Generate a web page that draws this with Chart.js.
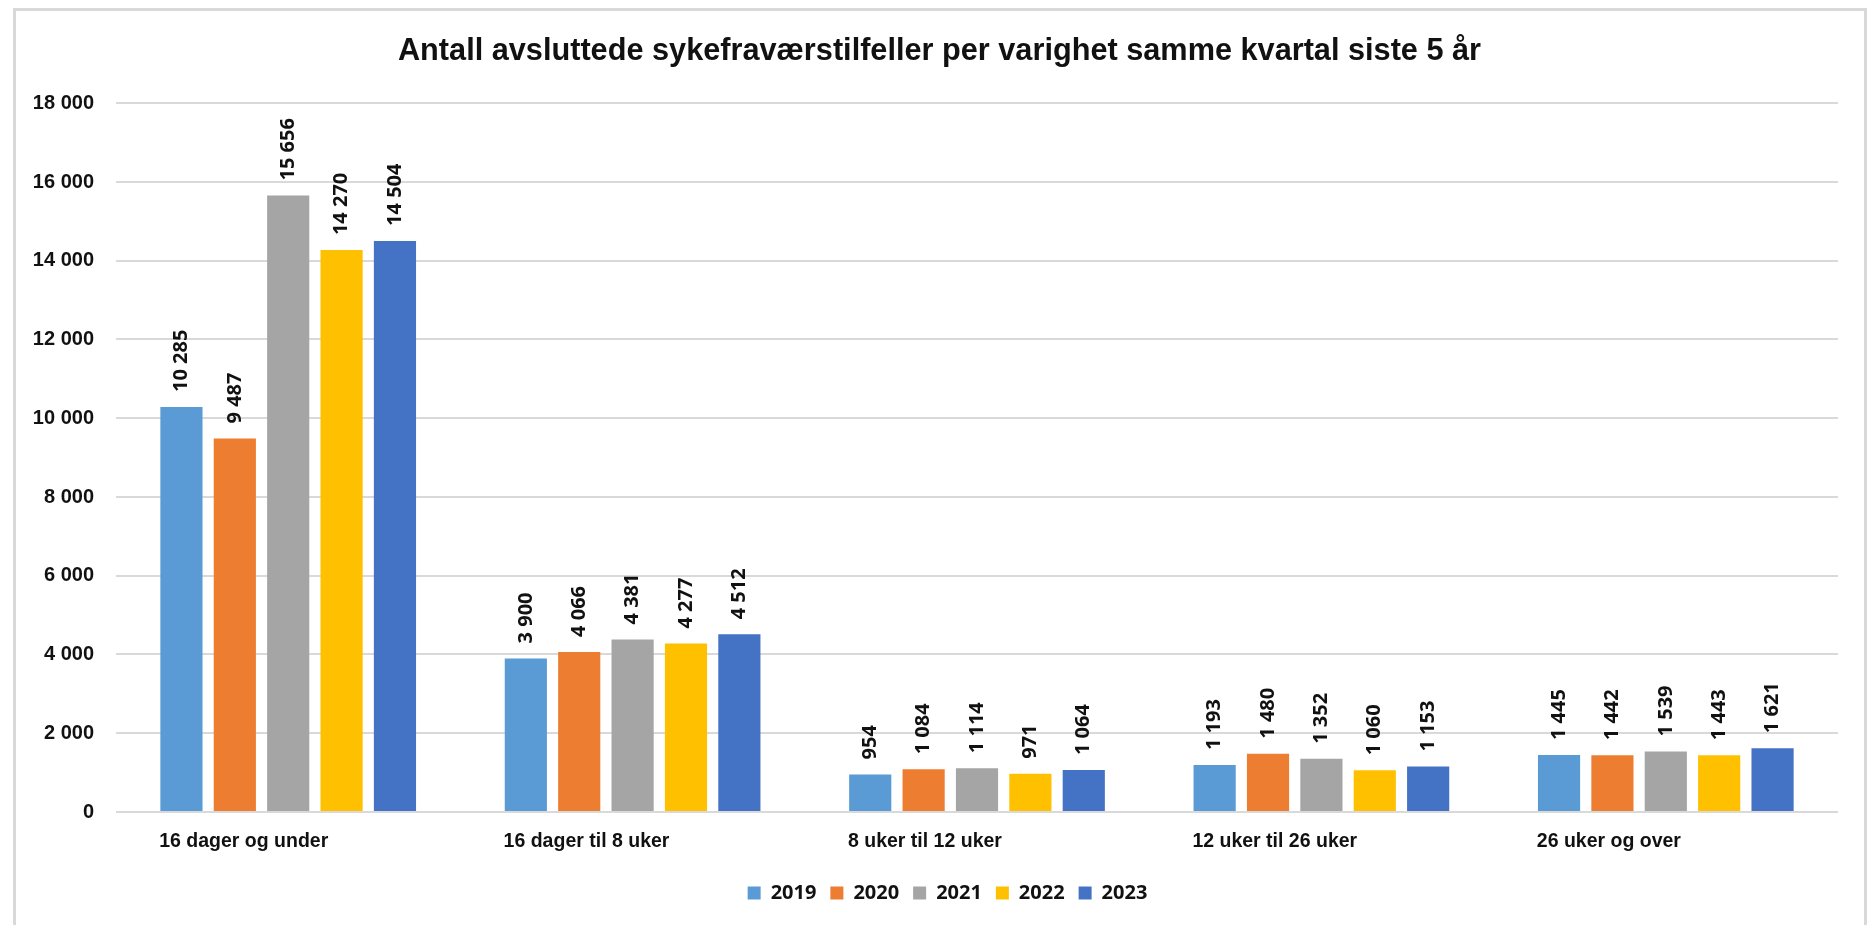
<!DOCTYPE html>
<html><head><meta charset="utf-8">
<script src="https://cdn.jsdelivr.net/npm/chart.js@4.4.1/dist/chart.umd.min.js"></script>
<style>
html,body{margin:0;padding:0;background:#fff;overflow:hidden;}
#wrap{position:relative;width:1873px;height:925px;}
#frame{position:absolute;left:13px;top:8px;width:1854px;height:1000px;border:3px solid #d9d9d9;box-sizing:border-box;pointer-events:none;}
canvas{position:absolute;left:0;top:0;}
</style></head><body>
<div id="wrap"><canvas id="c" width="1873" height="925"></canvas><div id="frame"></div></div>
<script>
const chartTitle = 'Antall avsluttede sykefraværstilfeller per varighet samme kvartal siste 5 år';
const categories = ['16 dager og under', '16 dager til 8 uker', '8 uker til 12 uker', '12 uker til 26 uker', '26 uker og over'];
const years = ['2019', '2020', '2021', '2022', '2023'];
const values2019 = [10285, 3900, 954, 1193, 1445];
const values2020 = [9487, 4066, 1084, 1480, 1442];
const values2021 = [15656, 4381, 1114, 1352, 1539];
const values2022 = [14270, 4277, 971, 1060, 1443];
const values2023 = [14504, 4512, 1064, 1153, 1621];
const yTicks = [0, 2000, 4000, 6000, 8000, 10000, 12000, 14000, 16000, 18000];
const seriesColors = ['#5B9BD5', '#ED7D31', '#A5A5A5', '#FFC000', '#4472C4'];

const seriesValues = [values2019, values2020, values2021, values2022, values2023];
const fmt = v => String(v).replace(/\B(?=(\d{3})+(?!\d))/g, ' ');

const barLabels = {
  id: 'barLabels',
  afterLayout(chart) {
    // let y tick labels extend to the left of the axis box without clipping
    chart.scales.y.left = 0;
    // nudge the legend row slightly right, as in the original
    chart.legend.left += 8;
    chart.legend.right += 8;
  },
  afterDatasetsDraw(chart) {
    const ctx = chart.ctx;
    ctx.save();
    ctx.font = 'bold 20px "Open Sans"';
    ctx.fillStyle = '#111';
    ctx.textAlign = 'left';
    ctx.textBaseline = 'middle';
    chart.data.datasets.forEach((ds, i) => {
      const meta = chart.getDatasetMeta(i);
      meta.data.forEach((bar, j) => {
        ctx.save();
        ctx.translate(bar.x, bar.y - 15);
        ctx.rotate(-Math.PI / 2);
        ctx.fillText(fmt(ds.data[j]), 0, 0);
        ctx.restore();
      });
    });
    ctx.restore();
  }
};

new Chart(document.getElementById('c'), {
  type: 'bar',
  data: {
    labels: categories,
    datasets: years.map((y, i) => ({
      label: y,
      data: seriesValues[i],
      backgroundColor: seriesColors[i],
      borderWidth: 0,
      categoryPercentage: 0.775,
      barPercentage: 0.79
    }))
  },
  options: {
    responsive: false,
    animation: false,
    events: [],
    layout: { padding: { left: 41, right: 35, top: 0, bottom: 12 } },
    plugins: {
      title: {
        display: true,
        text: chartTitle,
        color: '#111',
        font: { family: '"Liberation Sans", Arial, sans-serif', size: 30.7, weight: 'bold', lineHeight: 1.2 },
        padding: { top: 33.4, bottom: 33 }
      },
      legend: {
        position: 'bottom',
        labels: {
          boxWidth: 13,
          boxHeight: 13,
          padding: 14,
          color: '#111',
          font: { family: '"Open Sans", sans-serif', size: 20, weight: 'bold' }
        }
      },
      tooltip: { enabled: false }
    },
    scales: {
      x: {
        grid: { display: false, drawTicks: false },
        border: { display: false },
        ticks: {
          color: '#111',
          align: 'start',
          labelOffset: -129,
          padding: 18,
          maxRotation: 0,
          autoSkip: false,
          font: { family: '"Liberation Sans", Arial, sans-serif', size: 19.5, weight: 'bold' }
        },
        afterFit: s => { s.height = 57; }
      },
      y: {
        min: 0,
        max: 18000,
        grid: { color: '#d9d9d9', lineWidth: 2, drawTicks: false },
        border: { display: false },
        ticks: {
          color: '#111',
          padding: 22,
          font: { family: '"Liberation Sans", Arial, sans-serif', size: 20, weight: 'bold' },
          callback: v => fmt(v)
        },
        afterBuildTicks: s => { s.ticks = yTicks.map(v => ({ value: v })); },
        afterFit: s => { s.width = 75; }
      }
    }
  },
  plugins: [barLabels]
});
</script>
</body></html>
